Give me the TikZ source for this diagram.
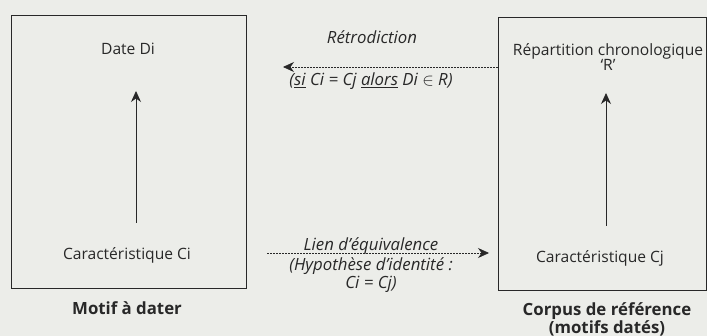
\documentclass[tikz,border=0pt]{standalone}
\usepackage{fontspec}
\setmainfont{Open Sans}
\usetikzlibrary{arrows.meta}
\definecolor{bg}{RGB}{236,237,233}
\definecolor{ink}{RGB}{40,40,40}
\begin{document}
\begin{tikzpicture}[x=1pt,y=-1pt,
  font=\fontsize{15.6}{15}\selectfont,
  txt/.style={text=ink, inner sep=0pt, align=center},
  boldtxt/.style={txt, font=\fontsize{16.8}{16.5}\selectfont\bfseries},
  itxt/.style={txt, font=\fontsize{16.8}{14.5}\selectfont\itshape},
  frame/.style={draw=ink, line width=0.9pt},
  uparrow/.style={draw=ink, line width=0.9pt, -{Stealth[length=11pt,width=10pt]}},
  dasharrow/.style={draw=ink, line width=0.7pt, dash pattern=on 2pt off 1pt, -{Stealth[length=11pt,width=10pt]}}]
\fill[bg] (0,0) rectangle (707,336);
\useasboundingbox (0,0) rectangle (707,336);
% boxes
\draw[frame] (11,15) rectangle (246,288);
\draw[frame] (498,17) rectangle (706,290);
\coordinate (rboxL) at (498,67);
% left box
\node[txt] (di) at (128,49) {Date Di};
\node[txt] (ci) at (127,255) {Caractéristique Ci};
\coordinate (ciTop) at (136,223);
\coordinate (diBot) at (136,91);
\draw[uparrow] (ciTop) -- (diBot);
\node[boldtxt] (motif) at (127,308) {Motif à dater};
% right box
\node[txt] (rep) at (608,57) {Répartition chronologique\\‘R’};
\node[txt] (cj) at (600,258) {Caractéristique Cj};
\coordinate (cjTop) at (606,226);
\coordinate (rBot) at (606,93);
\draw[uparrow] (cjTop) -- (rBot);
\node[boldtxt] (corpus) at (607,319) {Corpus de référence\\(motifs datés)};
% retrodiction
\node[itxt] (retro) at (372,37) {Rétrodiction};
\coordinate (retroEnd) at (283,67);
\draw[dasharrow] (rboxL) -- (retroEnd);
\node[itxt] (cond) at (371,81) {(\underline{si} Ci = Cj \underline{alors} Di $\in$ R)};
% lien
\coordinate (lienStart) at (267,253);
\coordinate (lienEnd) at (489,253);
\node[itxt, anchor=base] (lien) at (371,251) {Lien d'équivalence};
\draw[dasharrow] (lienStart) -- (lienEnd);
\node[itxt] (hyp) at (371,275) {(Hypothèse d'identité :\\Ci = Cj)};
\end{tikzpicture}
\end{document}
